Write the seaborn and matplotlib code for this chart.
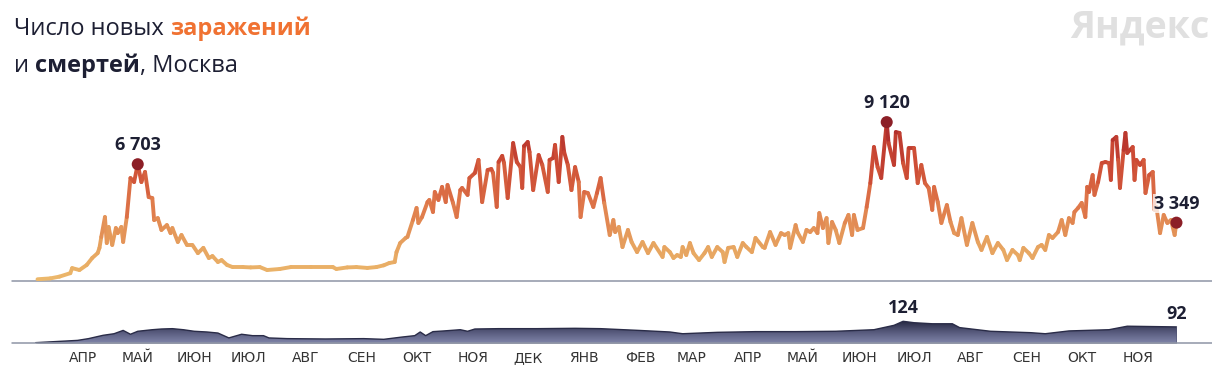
import numpy as np
import pandas as pd
import seaborn as sns
import matplotlib.pyplot as plt
from matplotlib.collections import LineCollection
from matplotlib.colors import LinearSegmentedColormap

# days counted from 2020-03-01
case_days = [11, 18, 23, 29, 30, 34, 38, 41, 44, 45, 46, 48, 49, 50, 52, 54, 55, 57, 58, 60,
             62, 64, 66, 68, 70, 72, 74, 75, 77, 79, 82, 84, 85, 88, 90, 93, 96, 99, 102, 105,
             107, 110, 112, 115, 118, 124, 128, 133,
             137, 144, 150, 161, 173, 175, 181, 186, 192, 197, 201, 204, 207, 208, 210, 213, 214, 217, 219, 220,
             222, 225, 226, 228, 229, 231, 233, 235, 236, 239, 241, 243, 244, 247, 248, 251, 253, 255, 258, 260,
             261, 263, 264, 266, 267, 269, 272, 274, 276, 277, 278, 280, 281, 283, 286, 288, 291, 292, 294, 295,
             297, 299, 300, 302, 304, 306, 308, 309, 311, 313, 316, 318, 320, 322, 325, 327, 328, 330, 332, 335,
             337, 340, 343, 346, 349, 354, 355, 358, 360, 362, 364, 365, 367, 369, 371, 374, 377, 379, 381, 384,
             387, 388,
             390, 393, 395, 398, 400, 403, 405, 409, 410, 413, 416, 419, 421, 423, 424, 427, 428, 431, 433, 435,
             437, 439, 440, 442, 444, 445, 447, 449, 451, 454, 456, 458, 459, 461, 464, 466, 468, 470, 472, 474,
             477, 478, 481, 482, 484, 486, 488, 489, 492, 494, 496, 498, 500, 502, 503, 505, 507, 510, 512, 514,
             516, 518, 521, 524, 527, 529, 532, 535, 538, 541, 543, 546, 549, 550, 552, 555, 557, 560, 562, 564,
             566, 568, 571, 573, 575, 577, 579, 580, 582, 584, 586, 587, 588, 590, 591, 593, 595, 597, 599, 600,
             601, 603, 604, 605, 607, 608, 609, 612, 613, 614, 616, 618, 619, 621, 623, 624, 625, 627, 629, 631,
             633, 635, 636]
case_values = [100, 150, 250, 450, 740, 630, 920, 1320, 1600, 1900, 2530, 3670, 2180, 3100, 2070, 3040, 2750, 3100, 2240, 3670,
               5910, 5680, 6703, 5680, 6260, 4820, 4760, 3500, 3610, 2930, 3210, 2750, 3040, 2240, 2640, 2070, 2070, 1600, 1900, 1320,
               1430, 1090, 1200, 920, 800, 800, 780, 800,
               630, 690, 800, 800, 800, 690, 780, 800, 750, 800, 900, 1030, 1090, 1660, 2180, 2470, 2530, 3500, 4190, 3330,
               3670, 4530, 4650, 3960, 5110, 4650, 5400, 4530, 5510, 4480, 3670, 5220, 5340, 4940, 5910, 6200, 6950, 4530, 6370, 6430,
               6200, 4250, 6830, 7180, 6770, 4760, 7920, 6830, 6540, 5340, 7750, 7980, 7400, 5220, 7230, 6660, 5110, 6950, 7060, 7810,
               5680, 8270, 7400, 6660, 5220, 6540, 5680, 3670, 5110, 5050, 4250, 5050, 5910, 4480, 2640, 3500, 2810, 3100, 1950, 2930,
               2240, 1660, 2240, 1600, 2180, 1380, 1950, 1660, 1320, 1490, 1380, 1950, 1490, 2180, 1600, 1200, 1600, 1950, 1380, 1950,
               1660, 1090,
               1900, 1950, 1380, 2180, 1950, 1660, 2470, 1950, 1900, 2810, 2070, 2750, 2640, 2750, 1900, 3210, 2810, 2240, 2930, 2810,
               3040, 2750, 3900, 3040, 3610, 2180, 3390, 2930, 2180, 3330, 3790, 2640, 3790, 2930, 3040, 4250, 5620, 7690, 6540, 5910,
               9120, 7920, 6660, 8550, 8500, 6770, 5910, 7630, 7630, 5620, 6660, 5620, 5340, 4080, 5400, 4530, 3330, 4360, 3390, 2750,
               2640, 3610, 2070, 3330, 2240, 1780, 2530, 1600, 2180, 1780, 1200, 1780, 1490, 1200, 1900, 1600, 1320, 1950, 2070, 1780,
               2640, 2470, 2810, 3500, 2640, 3610, 3330, 3960, 4190, 4480, 3670, 5400, 5110, 6080, 4940, 5680, 6770, 6830, 6770, 5800,
               8090, 8270, 6950, 5340, 7520, 8500, 7350, 7690, 5800, 6950, 6660, 6950, 5050, 6080, 6260, 4080, 4250, 2750, 3790, 3330,
               3500, 2640, 3349]

death_days = [10, 33, 39, 47, 53, 58, 62, 66, 74, 79, 85, 91, 97, 104, 110, 116, 123, 129, 135, 138,
              148, 169, 190, 201, 211, 218, 221, 224, 228, 234, 243, 247, 251, 264, 285, 306, 320, 341, 358, 365,
              384, 405, 427, 449, 470, 481, 486, 492, 502, 513, 517, 534, 556, 564, 577, 599, 609, 636]
death_values = [2, 15, 25, 44, 53, 72, 50, 67, 76, 80, 82, 76, 67, 63, 57, 29, 50, 42, 42, 29,
                25, 23, 25, 21, 34, 42, 63, 42, 65, 69, 76, 67, 80, 82, 82, 84, 82, 72, 63, 53,
                61, 65, 65, 67, 76, 101, 124, 116, 110, 110, 88, 67, 59, 53, 69, 76, 96, 92]

month_labels = ['АПР', 'МАЙ', 'ИЮН', 'ИЮЛ', 'АВГ', 'СЕН', 'ОКТ', 'НОЯ', 'ДЕК', 'ЯНВ',
                'ФЕВ', 'МАР', 'АПР', 'МАЙ', 'ИЮН', 'ИЮЛ', 'АВГ', 'СЕН', 'ОКТ', 'НОЯ']

cases = pd.DataFrame({'day': case_days, 'cases': case_values})
deaths = pd.DataFrame({'day': death_days, 'deaths': death_values})

sns.set_style('white')
plt.rcParams['font.family'] = ['Open Sans', 'DejaVu Sans']

W, H = 1212, 376
fig = plt.figure(figsize=(W / 100, H / 100), dpi=100)
ax = fig.add_axes([12 / W, 1 - 281 / H, 1 - 12 / W, 186 / H])
axd = fig.add_axes([12 / W, 1 - 343 / H, 1 - 12 / W, 53 / H])
xlim = (-3, 655.5)
dark = '#1d1f33'
grid_col = '#8e95a5'

# --- cases line, coloured by value
cmap = LinearSegmentedColormap.from_list('heat', ['#ecb96c', '#e6a05e', '#de7448', '#cc4a34', '#a8262a'])
pts = cases[['day', 'cases']].to_numpy(dtype=float)
segs = np.stack([pts[:-1], pts[1:]], axis=1)
lc = LineCollection(segs, cmap=cmap, norm=plt.Normalize(0, 9120), linewidth=2.8,
                    capstyle='round', joinstyle='round', zorder=3)
lc.set_array((pts[:-1, 1] + pts[1:, 1]) / 2)
ax.add_collection(lc)
ax.axhline(0, color=grid_col, lw=1.1, zorder=1, clip_on=False)

first = cases.loc[cases[cases.day < 200].cases.idxmax()]
top = cases.loc[cases.cases.idxmax()]
last = cases.iloc[-1]
marks = pd.DataFrame([first, top, last])
sns.scatterplot(data=marks, x='day', y='cases', ax=ax, color='#8c1f27', s=75,
                edgecolor='none', zorder=4)
for _, r in marks.iterrows():
    t = ax.annotate(f"{int(r.cases):,}".replace(',', ' '), (r.day, r.cases), xytext=(0, 19),
                    textcoords='offset pixels', ha='center', va='center', fontsize=13,
                    fontweight='bold', color=dark, zorder=5)
    if r.day == last.day:
        t.set_bbox(dict(facecolor='white', alpha=0.75, edgecolor='none', pad=0.5))

ax.set_xlim(*xlim)
ax.set_ylim(0, 10676)
ax.axis('off')

# --- deaths area with vertical gradient
sns.lineplot(data=deaths, x='day', y='deaths', ax=axd, color='#2a2c48', lw=1, zorder=3)
poly = axd.fill_between(deaths.day, deaths.deaths, 0, color='#4a4d6e', lw=0, zorder=2)
grad = np.linspace(0, 1, 256).reshape(-1, 1)
dcmap = LinearSegmentedColormap.from_list('navy', ['#7f84a8', '#575a7c', '#262842'])
im = axd.imshow(grad, cmap=dcmap, origin='lower', aspect='auto',
                extent=(xlim[0], xlim[1], 0, 124), zorder=2)
im.set_clip_path(poly.get_paths()[0], transform=axd.transData)
axd.axhline(0, color=grid_col, lw=1.1, zorder=4, clip_on=False)

dtop = deaths.loc[deaths.deaths.idxmax()]
dlast = deaths.iloc[-1]
for r in (dtop, dlast):
    axd.annotate(str(int(r.deaths)), (r.day, r.deaths), xytext=(0, 13), textcoords='offset pixels',
                 ha='center', va='center', fontsize=13, fontweight='bold', color=dark, zorder=5)

month_starts = pd.date_range('2020-04-01', periods=len(month_labels), freq='MS')
ticks = (month_starts - pd.Timestamp('2020-03-01')).days + 5
axd.set_xlim(*xlim)
axd.set_ylim(0, 303)
axd.set_xticks(ticks)
axd.set_xticklabels(month_labels, fontsize=10, color='#333333',
                    fontfamily=['Liberation Sans Narrow', 'DejaVu Sans'])
axd.tick_params(axis='x', length=0, pad=6)
axd.set_yticks([])
axd.set_xlabel('')
axd.set_ylabel('')
sns.despine(ax=axd, left=True, bottom=True)

# --- title, built from pieces
renderer = fig.canvas.get_renderer()


def write_line(parts, x_px, y_px):
    x = x_px / W
    for s, weight, col in parts:
        t = fig.text(x, 1 - y_px / H, s, fontsize=17, fontweight=weight, color=col,
                     ha='left', va='baseline')
        x += t.get_window_extent(renderer).width / W


write_line([('Число новых ', 'normal', dark), ('заражений', 'bold', '#f07232')], 14, 35)
write_line([('и ', 'normal', dark), ('смертей', 'bold', dark), (', Москва', 'normal', dark)], 14, 72)

fig.text(1209 / W, 1 - 38 / H, 'Яндекс', ha='right', va='baseline', fontsize=27,
         fontweight='bold', color='#e0e0e0')

fig.savefig('out.png', dpi=100)
